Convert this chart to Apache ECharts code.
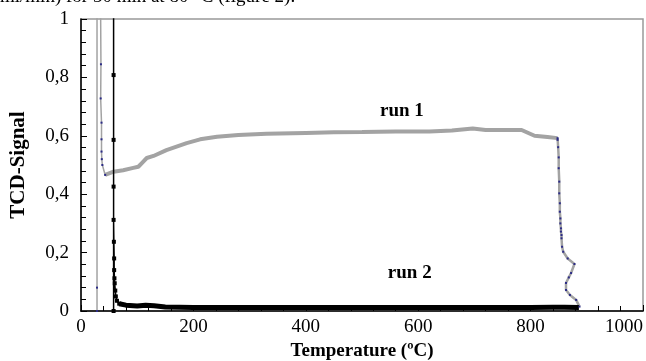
<!DOCTYPE html>
<html>
<head>
<meta charset="utf-8">
<script src="https://cdn.jsdelivr.net/npm/echarts@6/dist/echarts.min.js"></script>
<style>
  html, body { margin: 0; padding: 0; background: #fff; }
  #chartTcd { width: 646px; height: 361px; }
</style>
</head>
<body>
<div id="chartTcd"></div>
<script>
// axis ticks
var xTicks = [0, 200, 400, 600, 800, 1000];
var yTicks = [0, 0.2, 0.4, 0.6, 0.8, 1];

// run 1 (grey trace), split in pieces so the dense part can be drawn thicker
var run1Spike = [[28.5, 0], [28.5, 0.08], [28.5, 1.3], [34, 1.3], [35.5, 0.845], [35, 0.728],
    [36.5, 0.645], [36.5, 0.588], [36.5, 0.546], [37, 0.52], [38, 0.5], [43, 0.466]];
var run1Plateau = [[43, 0.466], [58, 0.477], [75, 0.482], [93, 0.49], [102, 0.494], [110, 0.51],
    [117, 0.524], [129, 0.531], [152, 0.551], [188, 0.575], [212, 0.588], [242, 0.597],
    [280, 0.603], [330, 0.607], [400, 0.61], [450, 0.612], [500, 0.613], [560, 0.615],
    [620, 0.615], [660, 0.618], [697, 0.625], [720, 0.62], [760, 0.62], [784, 0.62],
    [807, 0.6], [830, 0.596], [848, 0.592]];
var run1Drop = [[848, 0.592], [848, 0.586], [849, 0.561], [850, 0.526], [850, 0.489], [851, 0.443],
    [851, 0.403], [852, 0.369], [852, 0.34], [853, 0.317], [853, 0.3], [854, 0.283],
    [854, 0.272], [855, 0.26], [855, 0.249], [856, 0.22], [858, 0.203], [866, 0.18],
    [878, 0.161], [872, 0.13], [868, 0.115], [863, 0.096], [863, 0.072], [870, 0.055],
    [881, 0.038], [887, 0.015]];

// run 2 (black trace)
var run2Spike = [[58, 0], [58, 1.3], [58, 0.808], [58, 0.586], [58, 0.426], [58, 0.312],
    [58.5, 0.237], [59, 0.18], [59, 0.14], [59.5, 0.112], [60, 0.095], [61, 0.07],
    [62, 0.05], [64, 0.035], [68, 0.025]];
var run2Base = [[68, 0.025], [80, 0.02], [100, 0.017], [115, 0.02], [130, 0.018],
    [150, 0.014], [200, 0.012], [300, 0.012], [400, 0.012], [500, 0.012], [600, 0.012],
    [700, 0.012], [800, 0.012], [840, 0.013], [860, 0.013], [886, 0.012]];

var labelRun1 = [571, 0.69];
var labelRun2 = [585, 0.13];

var serif = 'Liberation Serif';
var grey = '#a3a3a3';
var navy = '#2b2b86';

var myChart = echarts.init(document.getElementById('chartTcd'));
var option = {
    backgroundColor: '#fff',
    animation: false,
    grid: {
        left: 81,
        right: 3,
        top: 19,
        bottom: 50,
        outerBoundsMode: 'none',
        containLabel: false,
        show: true,
        borderColor: '#999',
        borderWidth: 1.5,
        backgroundColor: '#fff'
    },
    xAxis: {
        type: 'value',
        min: xTicks[0],
        max: xTicks[xTicks.length - 1],
        interval: 200,
        name: 'Temperature (ºC)',
        nameLocation: 'middle',
        nameGap: 28,
        nameTextStyle: { fontFamily: serif, fontWeight: 'bold', fontSize: 19, color: '#000' },
        axisLine: { lineStyle: { color: '#000', width: 1.5 } },
        axisTick: { show: true, inside: true, length: 6, lineStyle: { color: '#000' } },
        minorTick: { show: true, splitNumber: 5, length: 5, lineStyle: { color: '#000' } },
        splitLine: { show: false },
        axisLabel: {
            fontFamily: serif, fontSize: 19, color: '#000', margin: 7,
            alignMaxLabel: 'right',
            formatter: function (v) { return String(v); }
        }
    },
    yAxis: {
        type: 'value',
        min: yTicks[0],
        max: yTicks[yTicks.length - 1],
        interval: 0.2,
        name: 'TCD-Signal',
        nameLocation: 'middle',
        nameGap: 52,
        nameTextStyle: { fontFamily: serif, fontWeight: 'bold', fontSize: 21, color: '#000' },
        axisLine: { show: true, lineStyle: { color: '#000', width: 1.5 } },
        axisTick: { show: true, inside: true, length: 6, lineStyle: { color: '#000' } },
        minorTick: { show: true, splitNumber: 5, length: 5, lineStyle: { color: '#000' } },
        splitLine: { show: false },
        axisLabel: {
            fontFamily: serif, fontSize: 19, color: '#000', margin: 12,
            formatter: function (v) {
                if (v === 0 || v === 1) return String(v);
                return v.toFixed(1).replace('.', ',');
            }
        }
    },
    series: [
        {
            name: 'run 1 spike', type: 'line', data: run1Spike, clip: true,
            lineStyle: { color: grey, width: 1.5 },
            symbol: 'rect', symbolSize: 2, showSymbol: true,
            itemStyle: { color: navy }
        },
        {
            name: 'run 1', type: 'line', data: run1Plateau, clip: true,
            lineStyle: { color: grey, width: 4 },
            showSymbol: false
        },
        {
            name: 'run 1 drop', type: 'line', data: run1Drop, clip: true,
            lineStyle: { color: grey, width: 2.5 },
            symbol: 'rect', symbolSize: 2, showSymbol: true,
            itemStyle: { color: navy }
        },
        {
            name: 'run 2 spike', type: 'line', data: run2Spike, clip: true,
            lineStyle: { color: '#000', width: 1.5 },
            symbol: 'rect', symbolSize: 4, showSymbol: true,
            itemStyle: { color: '#000' }
        },
        {
            name: 'run 2', type: 'line', data: run2Base, clip: true,
            lineStyle: { color: '#000', width: 5 },
            showSymbol: false
        }
    ]
};
myChart.setOption(option);

// run labels placed in data space
var p1 = myChart.convertToPixel({ gridIndex: 0 }, labelRun1);
var p2 = myChart.convertToPixel({ gridIndex: 0 }, labelRun2);
myChart.setOption({
    graphic: [
        {
            type: 'text', left: 0, top: -12,
            style: { text: 'ml/min) for 30 min at 80 °C (figure 2).', font: '19px "Liberation Serif"', fill: '#000' }
        },
        {
            type: 'text', x: p1[0], y: p1[1] + 2,
            style: { text: 'run 1', font: 'bold 19px "Liberation Serif"', fill: '#000', align: 'center', verticalAlign: 'middle' }
        },
        {
            type: 'text', x: p2[0], y: p2[1],
            style: { text: 'run 2', font: 'bold 19px "Liberation Serif"', fill: '#000', align: 'center', verticalAlign: 'middle' }
        }
    ]
});
</script>
</body>
</html>
